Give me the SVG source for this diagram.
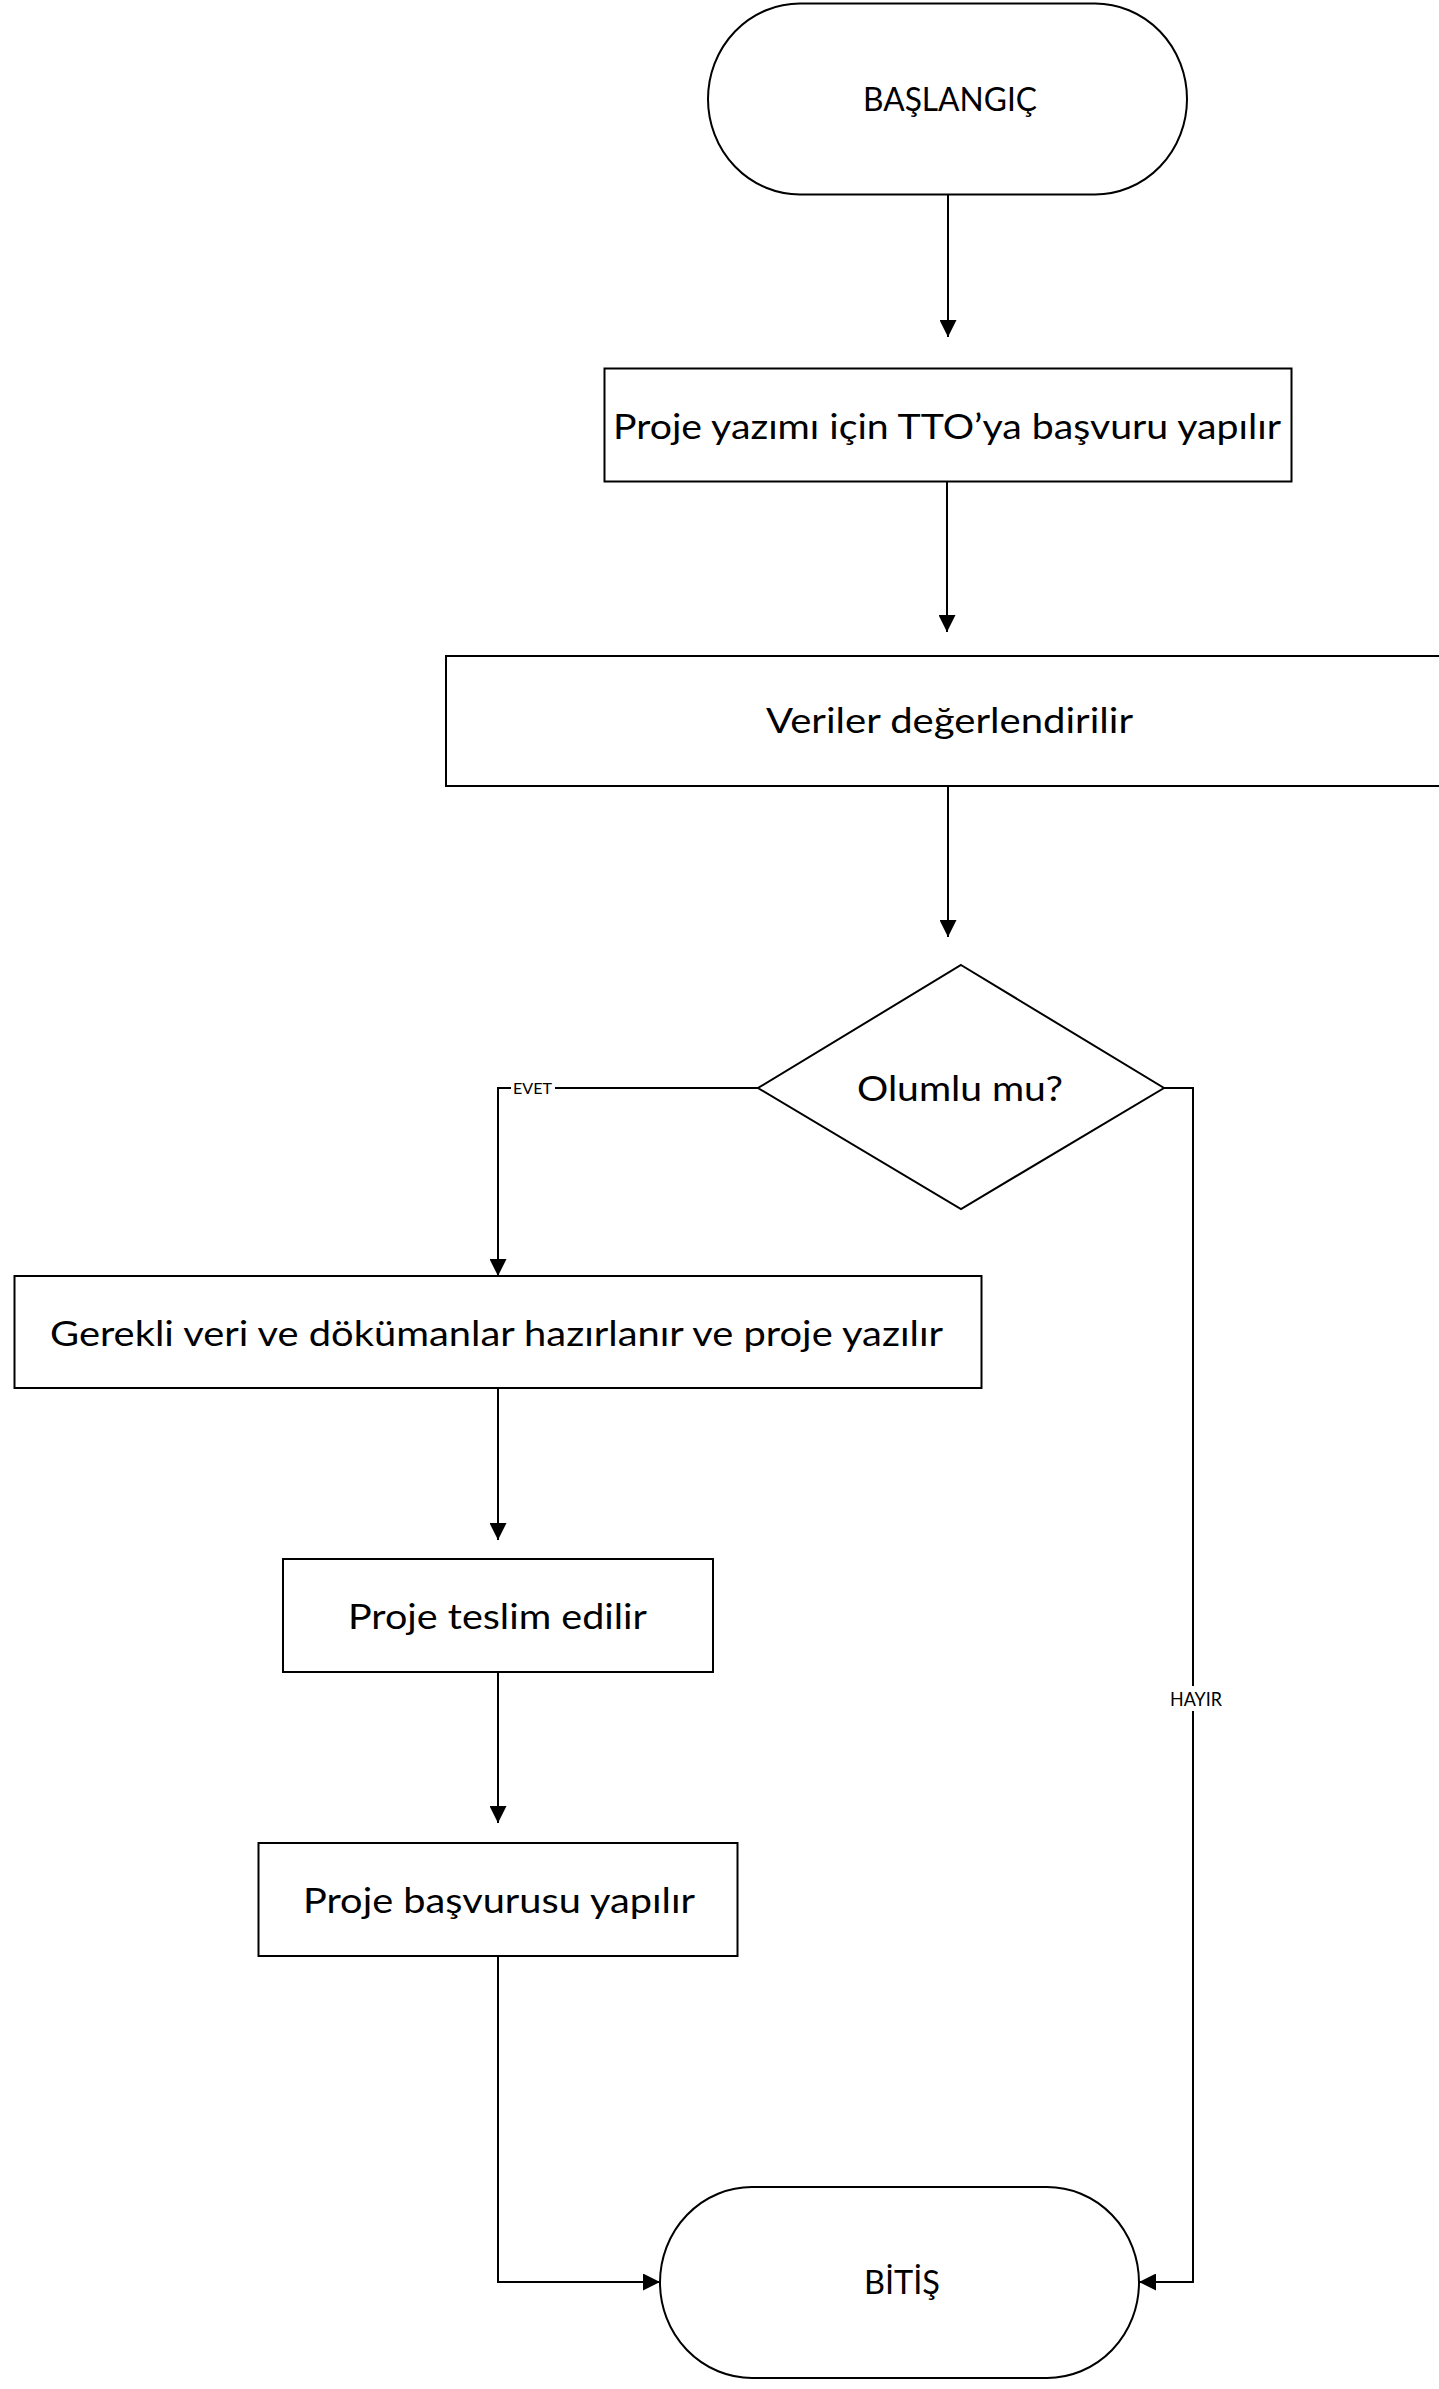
<svg xmlns="http://www.w3.org/2000/svg" width="1439" height="2389" viewBox="0 0 1439 2389">
<style>
.shape{fill:#fff;stroke:#000;stroke-width:2}
.conn{fill:none;stroke:#000;stroke-width:2}
.t{font-family:Lato,"Open Sans","Liberation Sans",sans-serif;fill:#000;text-anchor:middle}
.big{font-size:35px}
.term{font-size:33px}
.lbl{font-size:16px}
.lbl2{font-size:19px}
</style>
<defs>
<marker id="arr" markerUnits="userSpaceOnUse" markerWidth="17" markerHeight="17" refX="17" refY="8.5" orient="auto">
<path d="M0,0 L17,8.5 L0,17 z" fill="#000"/>
</marker>
</defs>
<rect width="1439" height="2389" fill="#fff"/>
<g id="connectors">
<path class="conn" d="M948,194 V337" marker-end="url(#arr)"/>
<path class="conn" d="M947,482 V632" marker-end="url(#arr)"/>
<path class="conn" d="M948,786 V937" marker-end="url(#arr)"/>
<path class="conn" d="M758,1088 H498 V1276" marker-end="url(#arr)"/>
<path class="conn" d="M498,1388 V1540" marker-end="url(#arr)"/>
<path class="conn" d="M498,1672 V1823" marker-end="url(#arr)"/>
<path class="conn" d="M498,1956 V2282 H660" marker-end="url(#arr)"/>
<path class="conn" d="M1164,1088 H1193 V2282 H1139" marker-end="url(#arr)"/>
<g id="label-evet">
<rect x="511" y="1078" width="44" height="20" fill="#fff"/>
<text class="t lbl" x="532.5" y="1094" textLength="39" lengthAdjust="spacingAndGlyphs">EVET</text>
</g>
<g id="label-hayir">
<rect x="1166" y="1686" width="60" height="25" fill="#fff"/>
<text class="t lbl2" x="1196" y="1706" textLength="52" lengthAdjust="spacingAndGlyphs">HAYIR</text>
</g>
</g>
<g id="start">
<rect class="shape" x="708" y="3.5" width="479" height="191" rx="92" ry="95.5"/>
<text class="t term" x="950" y="111" textLength="174" lengthAdjust="spacingAndGlyphs">BAŞLANGIÇ</text>
</g>
<g id="step1">
<rect class="shape" x="604.5" y="368.5" width="687" height="113"/>
<text class="t big" x="947" y="439" textLength="668" lengthAdjust="spacingAndGlyphs">Proje yazımı için TTO’ya başvuru yapılır</text>
</g>
<g id="step2">
<rect class="shape" x="446" y="656" width="1004" height="130"/>
<text class="t big" x="949.5" y="733" textLength="367" lengthAdjust="spacingAndGlyphs">Veriler değerlendirilir</text>
</g>
<g id="decision">
<polygon class="shape" points="961,965 1164,1088 961,1209 758,1088"/>
<text class="t big" x="960" y="1101" textLength="206" lengthAdjust="spacingAndGlyphs">Olumlu mu?</text>
</g>
<g id="step3">
<rect class="shape" x="14.5" y="1276" width="967" height="112"/>
<text class="t big" x="496.5" y="1346" textLength="893" lengthAdjust="spacingAndGlyphs">Gerekli veri ve dökümanlar hazırlanır ve proje yazılır</text>
</g>
<g id="step4">
<rect class="shape" x="283" y="1559" width="430" height="113"/>
<text class="t big" x="497.5" y="1629" textLength="299" lengthAdjust="spacingAndGlyphs">Proje teslim edilir</text>
</g>
<g id="step5">
<rect class="shape" x="258.5" y="1843" width="479" height="113"/>
<text class="t big" x="499" y="1913" textLength="392" lengthAdjust="spacingAndGlyphs">Proje başvurusu yapılır</text>
</g>
<g id="end">
<rect class="shape" x="660" y="2187" width="479" height="191" rx="92" ry="95.5"/>
<text class="t term" x="902" y="2294" textLength="76" lengthAdjust="spacingAndGlyphs">BİTİŞ</text>
</g>
</svg>
